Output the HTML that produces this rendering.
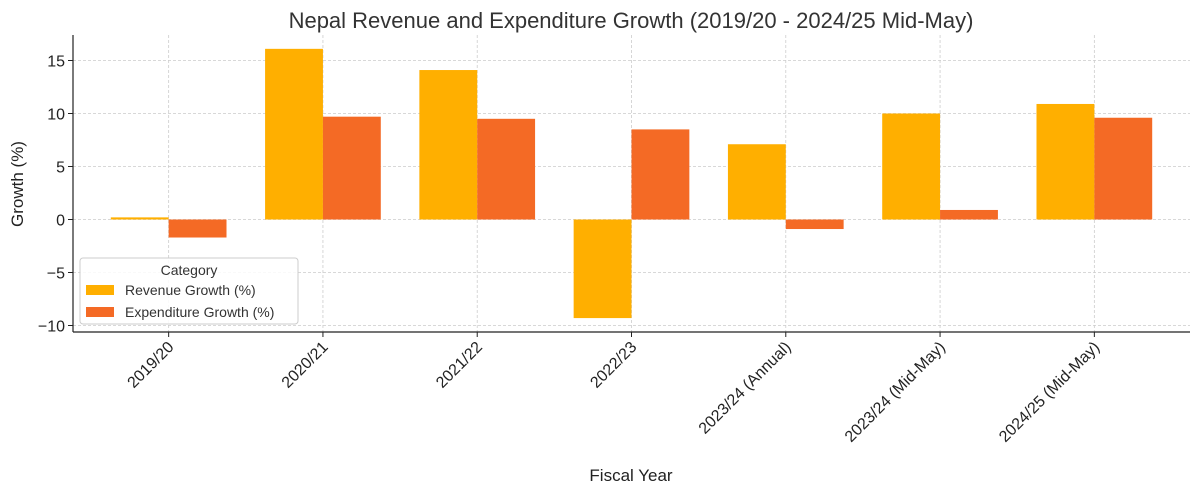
<!DOCTYPE html>
<html><head><meta charset="utf-8"><style>
html,body{margin:0;padding:0;background:#fff;}
svg{display:block;font-family:"Liberation Sans",sans-serif;}
</style></head><body>
<svg id="chart" width="1200" height="494" viewBox="0 0 1200 494" xmlns="http://www.w3.org/2000/svg">
<text x="631" y="28" text-anchor="middle" font-size="22" fill="#333">Nepal Revenue and Expenditure Growth (2019/20 - 2024/25 Mid-May)</text>
<g id="grid"></g>
<g id="bars"></g>
<g id="axes"></g>
<text x="631" y="481" text-anchor="middle" font-size="17" fill="#222">Fiscal Year</text>
<text transform="translate(23,184) rotate(-90)" text-anchor="middle" font-size="17" fill="#222">Growth (%)</text>
<g>
<rect x="80" y="258" width="218" height="66" rx="3" fill="#fff" fill-opacity="0.85" stroke="#ccc"/>
<text x="189" y="275" text-anchor="middle" font-size="14" fill="#333">Category</text>
<rect x="86" y="285" width="28" height="10" fill="#FFAF00"/>
<text x="125" y="295" font-size="14" fill="#333">Revenue Growth (%)</text>
<rect x="86" y="307" width="28" height="10" fill="#F46A25"/>
<text x="125" y="317" font-size="14" fill="#333">Expenditure Growth (%)</text>
</g>
</svg>
<script>
const categories = ["2019/20","2020/21","2021/22","2022/23","2023/24 (Annual)","2023/24 (Mid-May)","2024/25 (Mid-May)"];
const revenueGrowth = [0.2, 16.1, 14.1, -9.3, 7.1, 10.0, 10.9];
const expenditureGrowth = [-1.7, 9.7, 9.5, 8.5, -0.9, 0.9, 9.6];
const yTicks = [-10, -5, 0, 5, 10, 15];

const NS = "http://www.w3.org/2000/svg";
const L = 73, R = 1190, T = 35, B = 332;
const step = (R - L) / (categories.length - 1 + 1.24);
function xScale(i){ return L + step * (i + 0.62); }
function yScale(v){ return 219.5 - v * 10.6; }
function mk(tag, attrs, parent){ const e = document.createElementNS(NS, tag); for (const k in attrs) e.setAttribute(k, attrs[k]); parent.appendChild(e); return e; }
const grid = document.getElementById("grid"), bars = document.getElementById("bars"), axes = document.getElementById("axes");
const bw = step * 0.375;

yTicks.forEach(t => {
  const y = yScale(t);
  const g = mk("line", {x1: L, x2: R, y1: y, y2: y, stroke: "#ccc", "stroke-dasharray": "3,2", "stroke-width": 0.8}, grid);
  
  
  const tk = mk("line", {x1: L - 5, x2: L, y1: y, y2: y, stroke: "#222"}, axes);
  
  
  const lb = mk("text", {x: L - 8, y: y + 6, "text-anchor": "end", "font-size": 16, fill: "#222"}, axes);
  lb.textContent = t < 0 ? "\u2212" + Math.abs(t) : String(t);
  
  
});

categories.forEach((c, i) => {
  const x = xScale(i);
  const g = mk("line", {x1: x, x2: x, y1: T, y2: B, stroke: "#ccc", "stroke-dasharray": "3,2", "stroke-width": 0.8}, grid);
  
  
  const rv = revenueGrowth[i], ev = expenditureGrowth[i];
  const r = mk("rect", {x: x - bw, y: Math.min(yScale(rv), yScale(0)), width: bw, height: Math.abs(yScale(rv) - yScale(0)), fill: "#FFAF00"}, bars);
  
  
  const e = mk("rect", {x: x, y: Math.min(yScale(ev), yScale(0)), width: bw, height: Math.abs(yScale(ev) - yScale(0)), fill: "#F46A25"}, bars);
  
  
  const tk = mk("line", {x1: x, x2: x, y1: B, y2: B + 5, stroke: "#222"}, axes);
  
  
  const lb = mk("text", {transform: `translate(${x + 6},${B + 16}) rotate(-45)`, "text-anchor": "end", "font-size": 16, fill: "#222"}, axes);
  lb.textContent = c;
  
  
});

const ly = mk("line", {x1: L, x2: L, y1: T, y2: B, stroke: "#222", "stroke-width": 1.2}, axes);


const lx = mk("line", {x1: L, x2: R, y1: B, y2: B, stroke: "#222", "stroke-width": 1.2}, axes);


</script>
</body></html>
